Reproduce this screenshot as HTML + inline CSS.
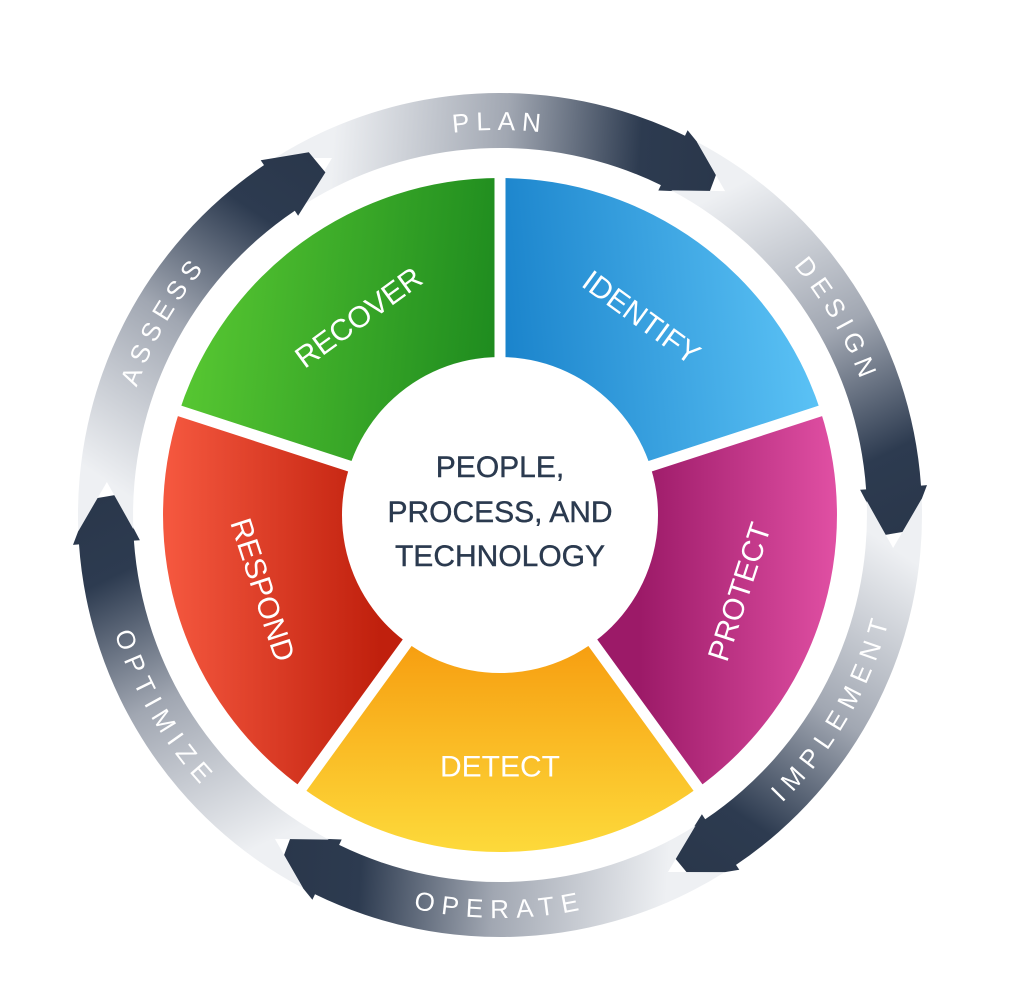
<!DOCTYPE html>
<html><head><meta charset="utf-8"><style>
html,body{margin:0;padding:0;background:#fff;}
svg{display:block;}
</style></head><body>
<svg id="s" width="1014" height="1006" viewBox="0 0 1014 1006" xmlns="http://www.w3.org/2000/svg">
<defs id="defs">
<linearGradient id="gGreen" gradientUnits="userSpaceOnUse" x1="200" y1="300" x2="495" y2="330"><stop offset="0" stop-color="#55c531"/><stop offset="1" stop-color="#1f8c1f"/></linearGradient>
<linearGradient id="gBlue" gradientUnits="userSpaceOnUse" x1="505" y1="330" x2="815" y2="300"><stop offset="0" stop-color="#1b84cc"/><stop offset="1" stop-color="#5cc3f6"/></linearGradient>
<linearGradient id="gMag" gradientUnits="userSpaceOnUse" x1="640" y1="560" x2="835" y2="560"><stop offset="0" stop-color="#9c1a68"/><stop offset="1" stop-color="#e04fa3"/></linearGradient>
<linearGradient id="gYel" gradientUnits="userSpaceOnUse" x1="500" y1="650" x2="500" y2="850"><stop offset="0" stop-color="#f7a012"/><stop offset="1" stop-color="#fdd93a"/></linearGradient>
<linearGradient id="gRed" gradientUnits="userSpaceOnUse" x1="380" y1="560" x2="170" y2="560"><stop offset="0" stop-color="#c0200d"/><stop offset="1" stop-color="#f4573e"/></linearGradient>
<path id="tp0"/><path id="tp1"/><path id="tp2"/><path id="tp3"/><path id="tp4"/><path id="tp5"/>
</defs>
<g id="ring"></g>
<g id="wedges"></g>
<circle cx="500" cy="515" r="158" fill="#fff"/>
<g font-family="'Liberation Sans', sans-serif" font-size="26" fill="#fff" letter-spacing="7">
<text dominant-baseline="central"><textPath href="#tp0" startOffset="50%" text-anchor="middle">PLAN</textPath></text>
<text dominant-baseline="central"><textPath href="#tp1" startOffset="50%" text-anchor="middle">DESIGN</textPath></text>
<text dominant-baseline="central"><textPath href="#tp2" startOffset="50%" text-anchor="middle">IMPLEMENT</textPath></text>
<text dominant-baseline="central"><textPath href="#tp3" startOffset="50%" text-anchor="middle">OPERATE</textPath></text>
<text dominant-baseline="central"><textPath href="#tp4" startOffset="50%" text-anchor="middle">OPTIMIZE</textPath></text>
<text dominant-baseline="central"><textPath href="#tp5" startOffset="50%" text-anchor="middle">ASSESS</textPath></text>
</g>
<g font-family="'Liberation Sans', sans-serif" font-size="30" fill="#fff" text-anchor="middle" dominant-baseline="central">
<text transform="translate(359,318) rotate(-36)">RECOVER</text>
<text transform="translate(641,318) rotate(36)">IDENTIFY</text>
<text transform="translate(740,592) rotate(-72)">PROTECT</text>
<text transform="translate(500,767) rotate(0)">DETECT</text>
<text transform="translate(262,590) rotate(72)">RESPOND</text>
</g>
<g font-family="'Liberation Sans', sans-serif" font-size="30" fill="#2b3a4f" text-anchor="middle" stroke="#2b3a4f" stroke-width="0.4">
<text x="500" y="477">PEOPLE,</text>
<text x="500" y="522">PROCESS, AND</text>
<text x="500" y="566">TECHNOLOGY</text>
</g>
</svg>
<script>
(function(){
var NS="http://www.w3.org/2000/svg",cx=500,cy=515,R=Math.PI/180;
function P(r,a){return [cx+r*Math.cos(a*R),cy+r*Math.sin(a*R)];}
function f(p){return p[0].toFixed(1)+","+p[1].toFixed(1);}
var defs=document.getElementById("defs"),ring=document.getElementById("ring"),wg=document.getElementById("wedges");
var cols=["gBlue","gMag","gYel","gRed","gGreen"];
for(var k=0;k<5;k++){
 var a0=-90+72*k,a1=a0+72,ro=337,ri=150;
 var d="M"+f(P(ri,a0))+" L"+f(P(ro,a0))+" A"+ro+","+ro+" 0 0 1 "+f(P(ro,a1))+" L"+f(P(ri,a1))+" A"+ri+","+ri+" 0 0 0 "+f(P(ri,a0))+"Z";
 var p=document.createElementNS(NS,"path");p.setAttribute("d",d);p.setAttribute("fill","url(#"+cols[k]+")");wg.appendChild(p);
}
for(var k=0;k<5;k++){
 var a=-90+72*k;var l=document.createElementNS(NS,"line");var p1=P(140,a),p2=P(345,a);
 l.setAttribute("x1",p1[0]);l.setAttribute("y1",p1[1]);l.setAttribute("x2",p2[0]);l.setAttribute("y2",p2[1]);
 l.setAttribute("stroke","#fff");l.setAttribute("stroke-width","11");wg.appendChild(l);
}
var ri=367,ro=422,rm=394.5,hd=7,g=1.8,fl=6;
for(var k=0;k<6;k++){
 var T=-57+60*k,Tp=T-60;
 var s=Tp-hd+g;
 var d="M"+f(P(ro,s))+" A"+ro+","+ro+" 0 0 1 "+f(P(ro,T-hd))+" L"+f(P(ro+fl,T-hd))+" L"+f(P(ro-12,T-0.8))+" L"+f(P(rm-10,T))+" L"+f(P(ri-fl,T-hd))+" L"+f(P(ri,T-hd))+" A"+ri+","+ri+" 0 0 0 "+f(P(ri,s))+" L"+f(P(rm,Tp+g))+"Z";
 var gr=document.createElementNS(NS,"linearGradient");gr.setAttribute("id","ar"+k);gr.setAttribute("gradientUnits","userSpaceOnUse");
 var a=P(rm,Tp+g),b=P(rm,T);
 gr.setAttribute("x1",a[0]);gr.setAttribute("y1",a[1]);gr.setAttribute("x2",b[0]);gr.setAttribute("y2",b[1]);
 [["0","#eef0f3"],["0.45","#a1a7b2"],["0.8","#2d3b50"],["1","#2a374b"]].forEach(function(st){var e=document.createElementNS(NS,"stop");e.setAttribute("offset",st[0]);e.setAttribute("stop-color",st[1]);gr.appendChild(e);});
 defs.appendChild(gr);
 var p=document.createElementNS(NS,"path");p.setAttribute("d",d);p.setAttribute("fill","url(#ar"+k+")");ring.appendChild(p);
}
var cs=[-90,-30,30,90,150,210],cw=[1,1,0,0,0,1];
for(var k=0;k<6;k++){
 var c=cs[k],r=394,d;
 if(cw[k]) d="M"+f(P(r,c-45))+" A"+r+","+r+" 0 0 1 "+f(P(r,c+45));
 else d="M"+f(P(r,c+45))+" A"+r+","+r+" 0 0 0 "+f(P(r,c-45));
 document.getElementById("tp"+k).setAttribute("d",d);
}
})();
</script>
</body></html>
